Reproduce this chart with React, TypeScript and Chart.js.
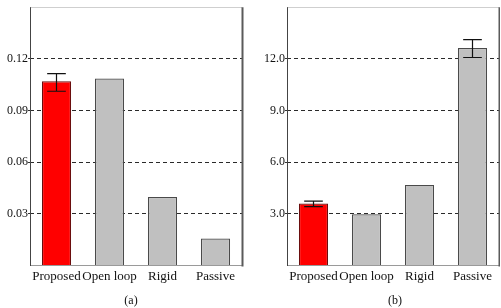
import React, { useEffect, useRef } from 'react';
import { Chart, registerables } from 'chart.js';
Chart.register(...registerables);

const FONT = "'Liberation Serif', 'Times New Roman', serif";
Chart.defaults.font.family = FONT;

const categories = ['Proposed', 'Open loop', 'Rigid', 'Passive'];

const valuesA = [0.107, 0.1086, 0.0398, 0.0157];
const errLowA: (number | null)[] = [0.1012, null, null, null];
const errHighA: (number | null)[] = [0.1114, null, null, null];
const ticksA = [0.03, 0.06, 0.09, 0.12];
const maxA = 0.15;

const valuesB = [3.6, 2.98, 4.68, 12.63];
const errLowB: (number | null)[] = [3.42, null, null, 12.08];
const errHighB: (number | null)[] = [3.74, null, null, 13.12];
const ticksB = [3.0, 6.0, 9.0, 12.0];
const maxB = 15;

const fillColors = ['#ff0000', '#c0c0c0', '#c0c0c0', '#c0c0c0'];
const borderColors = ['#6a0d0d', '#4a4a4a', '#4a4a4a', '#4a4a4a'];

function makeConfig(
  values: number[],
  lo: (number | null)[],
  hi: (number | null)[],
  ticks: number[],
  max: number,
  decimals: number,
  caption: string,
  captionDx: number,
  yWidth: number,
  padRight: number
): any {
  const plugin = {
    id: 'extras',
    afterDatasetsDraw(chart: any) {
      const ctx = chart.ctx;
      const meta = chart.getDatasetMeta(0);
      const y = chart.scales.y;
      ctx.save();
      ctx.strokeStyle = '#111';
      ctx.lineWidth = 1.2;
      meta.data.forEach((bar: any, i: number) => {
        if (lo[i] == null || hi[i] == null) return;
        const x = bar.x;
        const half = bar.width * 0.32;
        const y1 = y.getPixelForValue(lo[i]);
        const y2 = y.getPixelForValue(hi[i]);
        ctx.beginPath();
        ctx.moveTo(x, y1);
        ctx.lineTo(x, y2);
        ctx.moveTo(x - half, y1);
        ctx.lineTo(x + half, y1);
        ctx.moveTo(x - half, y2);
        ctx.lineTo(x + half, y2);
        ctx.stroke();
      });
      ctx.restore();
    },
    afterDraw(chart: any) {
      const ctx = chart.ctx;
      const a = chart.chartArea;
      ctx.save();
      ctx.setLineDash([]);
      ctx.strokeStyle = '#cfcfcf';
      ctx.lineWidth = 1;
      ctx.beginPath();
      ctx.moveTo(a.left, Math.floor(a.top) + 0.5);
      ctx.lineTo(a.right, Math.floor(a.top) + 0.5);
      ctx.stroke();
      ctx.strokeStyle = '#9a9a9a';
      ctx.beginPath();
      ctx.moveTo(a.left, Math.floor(a.bottom) + 0.5);
      ctx.lineTo(a.right, Math.floor(a.bottom) + 0.5);
      ctx.stroke();
      ctx.strokeStyle = '#444';
      ctx.beginPath();
      ctx.moveTo(Math.floor(a.left) + 0.5, a.top);
      ctx.lineTo(Math.floor(a.left) + 0.5, a.bottom + 0.5);
      ctx.stroke();
      ctx.strokeStyle = '#5a5a5a';
      ctx.lineWidth = 2;
      ctx.beginPath();
      ctx.moveTo(a.right + 0.5, a.top);
      ctx.lineTo(a.right + 0.5, a.bottom + 1);
      ctx.stroke();
      ctx.fillStyle = '#111';
      ctx.font = '12px ' + FONT;
      ctx.textAlign = 'center';
      ctx.textBaseline = 'middle';
      ctx.fillText(caption, (a.left + a.right) / 2 + captionDx, 300.5);
      ctx.restore();
    },
  };

  return {
    type: 'bar',
    data: {
      labels: categories,
      datasets: [
        {
          data: values,
          backgroundColor: fillColors,
          borderColor: borderColors,
          borderWidth: 1.2,
          borderSkipped: 'bottom',
          barPercentage: 0.55,
          categoryPercentage: 1,
        },
      ],
    },
    options: {
      animation: false,
      responsive: false,
      events: [],
      font: { family: FONT },
      layout: { padding: { left: 0, right: padRight, top: 0.5, bottom: 0.5 } },
      plugins: { legend: { display: false }, tooltip: { enabled: false } },
      scales: {
        x: {
          grid: { display: false, drawTicks: false },
          border: { display: false },
          ticks: {
            color: '#111',
            padding: 3,
            font: { family: FONT, size: 13 },
            maxRotation: 0,
            autoSkip: false,
          },
          afterFit(scale: any) {
            scale.height = 42;
          },
        },
        y: {
          min: 0,
          max: max,
          border: { display: false, dash: [4, 3] },
          grid: {
            color: '#2a2a2a',
            lineWidth: 1,
            tickLength: 2,
            tickColor: '#333',
            tickBorderDash: [],
          },
          ticks: {
            color: '#111',
            padding: 0,
            font: { family: FONT, size: 12 },
            callback: (v: any) => Number(v).toFixed(decimals),
          },
          afterBuildTicks(scale: any) {
            scale.ticks = ticks.map((v) => ({ value: v }));
          },
          afterFit(scale: any) {
            scale.width = yWidth;
          },
        },
      },
    },
    plugins: [plugin],
  };
}

function BarPanel(props: { config: any; left: number; width: number }) {
  const ref = useRef<HTMLCanvasElement | null>(null);
  useEffect(() => {
    let chart: any = null;
    let cancelled = false;
    const make = () => {
      if (cancelled || !ref.current) return;
      chart = new Chart(ref.current, props.config);
    };
    const fonts: any = (document as any).fonts;
    if (fonts && fonts.load) {
      Promise.all([
        fonts.load("12px 'Liberation Serif'"),
        fonts.load("13px 'Liberation Serif'"),
      ]).then(make, make);
    } else {
      make();
    }
    return () => {
      cancelled = true;
      if (chart) chart.destroy();
    };
  }, []);
  return (
    <canvas
      ref={ref}
      width={props.width}
      height={308}
      style={{ position: 'absolute', left: props.left, top: 0, width: props.width, height: 308 }}
    />
  );
}

export default function App() {
  const cfgA = makeConfig(valuesA, errLowA, errHighA, ticksA, maxA, 2, '(a)', -5, 30, 3);
  const cfgB = makeConfig(valuesB, errLowB, errHighB, ticksB, maxB, 1, '(b)', 2, 37, 1);
  return (
    <div style={{ position: 'fixed', left: 0, top: 0, width: 501, height: 308, background: '#fff' }}>
      <BarPanel config={cfgA} left={0} width={245} />
      <BarPanel config={cfgB} left={250} width={250} />
    </div>
  );
}
